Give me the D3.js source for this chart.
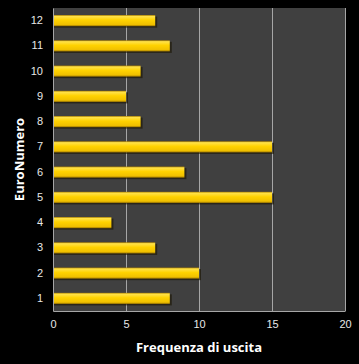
<!DOCTYPE html>
<html>
<head>
<meta charset="utf-8">
<script src="https://cdn.jsdelivr.net/npm/d3@7"></script>
<style>
  html, body { margin: 0; padding: 0; background: #000; }
  svg { display: block; }
</style>
</head>
<body>
<div id="chart"></div>
<script>
const categories = ['1', '2', '3', '4', '5', '6', '7', '8', '9', '10', '11', '12']
const values = [8, 10, 7, 4, 15, 9, 15, 6, 5, 6, 8, 7]
const xTicks = [0, 5, 10, 15, 20]

const width = 359
const height = 364
const margin = {top: 8, right: 14, bottom: 53, left: 53}

const svg = d3.select('#chart').append('svg')
  .attr('width', width)
  .attr('height', height)
  .style('font-family', '"Open Sans", sans-serif')

const defs = svg.append('defs')
const grad = defs.append('linearGradient')
  .attr('id', 'gold')
  .attr('x1', 0).attr('y1', 0).attr('x2', 0).attr('y2', 1)
grad.append('stop').attr('offset', '0%').attr('stop-color', '#b08400')
grad.append('stop').attr('offset', '12%').attr('stop-color', '#ffe24a')
grad.append('stop').attr('offset', '45%').attr('stop-color', '#ffd200')
grad.append('stop').attr('offset', '85%').attr('stop-color', '#f0c000')
grad.append('stop').attr('offset', '100%').attr('stop-color', '#9a7400')

svg.append('rect')
  .attr('width', width)
  .attr('height', height)
  .attr('fill', '#000')

const x = d3.scaleLinear()
  .domain([0, 20])
  .range([margin.left, width - margin.right])

const y = d3.scaleBand()
  .domain(categories.slice().reverse())
  .range([margin.top, height - margin.bottom])
  .paddingInner(0.56)
  .paddingOuter(0.28)

// plot area
svg.append('rect')
  .attr('x', margin.left)
  .attr('y', margin.top)
  .attr('width', x(20) - margin.left)
  .attr('height', height - margin.bottom - margin.top)
  .attr('fill', '#404040')

// gridlines
svg.append('g')
  .selectAll('line')
  .data(xTicks.slice(1))
  .join('line')
  .attr('x1', d => Math.round(x(d)) + 0.5)
  .attr('x2', d => Math.round(x(d)) + 0.5)
  .attr('y1', margin.top)
  .attr('y2', height - margin.bottom)
  .attr('stroke', '#a6a6a6')
  .attr('stroke-width', 1)

// bar shadows
svg.append('g')
  .selectAll('rect')
  .data(categories)
  .join('rect')
  .attr('x', x(0) + 1)
  .attr('y', d => y(d) + 1.5)
  .attr('width', (d, i) => x(values[i]) - x(0) + 1)
  .attr('height', y.bandwidth())
  .attr('fill', '#1a1400')
  .attr('opacity', 0.6)

// bars
svg.append('g')
  .selectAll('rect')
  .data(categories)
  .join('rect')
  .attr('x', x(0))
  .attr('y', d => y(d))
  .attr('width', (d, i) => x(values[i]) - x(0))
  .attr('height', y.bandwidth())
  .attr('fill', 'url(#gold)')

// axes
const axisX = d3.axisBottom(x)
  .tickValues(xTicks)
  .tickSize(0)
  .tickPadding(9)
const gx = svg.append('g')
  .attr('transform', `translate(0,${height - margin.bottom})`)
  .call(axisX)
gx.select('.domain').attr('stroke', '#a6a6a6')
gx.selectAll('text')
  .attr('fill', '#e8e8e8')
  .style('font-size', '11px')

const axisY = d3.axisLeft(y)
  .tickSize(0)
  .tickPadding(10)
const gy = svg.append('g')
  .attr('transform', `translate(${margin.left},0)`)
  .call(axisY)
gy.select('.domain').attr('stroke', '#a6a6a6')
gy.selectAll('text')
  .attr('fill', '#e8e8e8')
  .style('font-size', '11px')

// axis titles
svg.append('text')
  .attr('x', (margin.left + x(20)) / 2)
  .attr('y', 352)
  .attr('text-anchor', 'middle')
  .attr('fill', '#fff')
  .style('font-size', '13px')
  .style('font-weight', 'bold')
  .text('Frequenza di uscita')

svg.append('text')
  .attr('transform', `translate(24,${(margin.top + height - margin.bottom) / 2}) rotate(-90)`)
  .attr('text-anchor', 'middle')
  .attr('fill', '#fff')
  .style('font-size', '13px')
  .style('font-weight', 'bold')
  .text('EuroNumero')
</script>
</body>
</html>
